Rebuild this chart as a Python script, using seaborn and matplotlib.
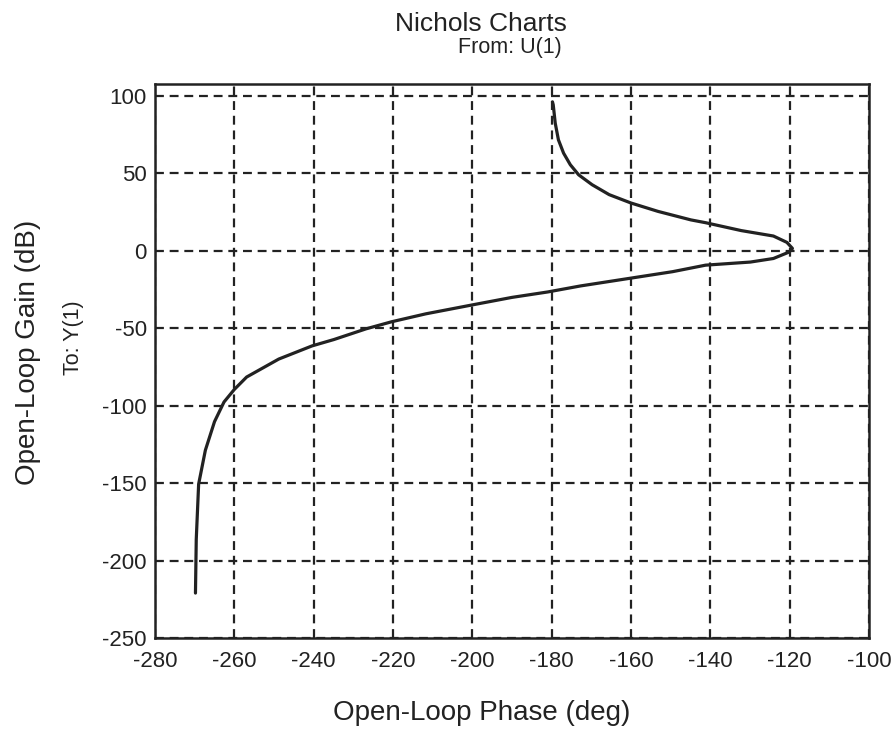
import matplotlib
matplotlib.use("Agg")
import matplotlib.pyplot as plt
import seaborn as sns
import pandas as pd

# Data (open-loop phase in deg, gain in dB)
phase = [-179.8, -179.6, -179.1, -178.3, -177.0, -175.3, -173.2, -169.8, -165.5,
         -160.0, -153.2, -144.9, -141.2, -132.2, -124.1, -120.7, -119.3, -120.1,
         -124.1, -129.9, -141.2, -149.5, -161.1, -172.7, -181.0, -190.0, -199.9,
         -211.7, -220.3, -226.8, -234.9, -240.4, -248.8, -256.9, -260.0, -262.6,
         -265.0, -267.3, -269.0, -269.6, -269.8]
gain = [96.0, 94.0, 82.2, 71.5, 62.9, 55.4, 48.9, 42.5, 36.1,
        30.7, 25.3, 19.8, 18.0, 12.9, 9.4, 5.3, 1.4, -0.9,
        -5.1, -7.4, -9.4, -13.6, -18.2, -22.8, -26.7, -30.2, -35.0,
        -40.8, -45.9, -50.5, -57.4, -61.5, -70.0, -81.6, -89.6, -97.7,
        -110.4, -128.8, -150.7, -186.4, -221.0]
xticks = [-280, -260, -240, -220, -200, -180, -160, -140, -120, -100]
yticks = [-250, -200, -150, -100, -50, 0, 50, 100]

df = pd.DataFrame({"phase": phase, "gain": gain})

sns.set_style("white")
plt.rcParams["font.family"] = ["Liberation Sans", "DejaVu Sans"]

W, H = 891, 731
fig = plt.figure(figsize=(W / 100, H / 100), dpi=100)
ax = fig.add_axes([155 / W, 1 - 638 / H, (869 - 155) / W, (638 - 84) / H])

sns.lineplot(data=df, x="phase", y="gain", sort=False, estimator=None,
             color="#222222", linewidth=2.3, ax=ax)

ax.set_xlim(-280, -100)
ax.set_ylim(-250, 107.5)
ax.set_xticks(xticks)
ax.set_yticks(yticks)
ax.set_xticklabels([str(t) for t in xticks])
ax.set_yticklabels([str(t) for t in yticks])

ax.grid(True, color="#222222", linestyle=(0, (4, 2.6)), linewidth=1.6)
ax.tick_params(direction="in", length=5, width=1.2, labelsize=16, colors="#222222")
ax.tick_params(axis="x", pad=9.5)
ax.tick_params(axis="y", pad=6)
for s in ax.spines.values():
    s.set_visible(True)
    s.set_color("#222222")
    s.set_linewidth(1.8)

ax.set_xlabel("")
ax.set_ylabel("")

fig.text(482 / W, 1 - 720 / H, "Open-Loop Phase (deg)", ha="center", va="baseline",
         fontsize=20, color="#222222")
fig.text(28 / W, 1 - 352 / H, "Open-Loop Gain (dB)", ha="center", va="center",
         rotation=90, fontsize=20, color="#222222")
fig.text(481 / W, 1 - 31 / H, "Nichols Charts", ha="center", va="baseline",
         fontsize=19, color="#222222")
fig.text(510 / W, 1 - 53 / H, "From: U(1)", ha="center", va="baseline",
         fontsize=15.5, color="#222222")
fig.text(74 / W, 1 - 338 / H, "To: Y(1)", ha="center", va="center",
         rotation=90, fontsize=15.5, color="#222222")

fig.savefig("out.png", dpi=100)
